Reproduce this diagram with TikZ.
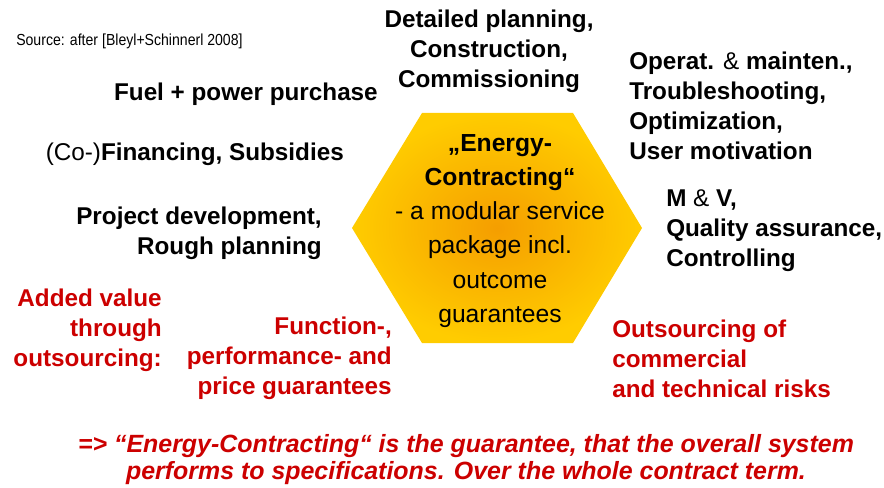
\documentclass[tikz,border=0pt]{standalone}
\usepackage{fontspec}
\setmainfont{Liberation Sans}
\newfontfamily\narrowfont[FakeStretch=0.88]{Liberation Sans}
\definecolor{hexcore}{RGB}{245,158,0}
\definecolor{hexrim}{RGB}{255,204,0}
\definecolor{gainred}{RGB}{204,0,0}

\begin{document}
\begin{tikzpicture}[x=0.75pt,y=-0.75pt,
    every node/.style={inner sep=0pt},
    task/.style={font=\fontsize{18.2}{22.5}\selectfont\bfseries},
    gain/.style={task,text=gainred}]
  \useasboundingbox (0,0) rectangle (884,488);
  \shade[inner color=hexcore,outer color=hexrim] (352,228) -- (422,113) -- (573,113)
    -- (642,228) -- (573,343) -- (422,343) -- cycle;
  \node (core) [font=\fontsize{18.5}{25.6}\selectfont, align=center] at (500,231)
    {\textbf{„Energy-}\\\textbf{Contracting“}\\- a modular service\\package incl.\\outcome\\guarantees};
  \node (source) [anchor=west, font=\narrowfont\fontsize{12}{14}\selectfont] at (16,41)
    {Source: after [Bleyl+Schinnerl 2008]};
  \node (build) [task, align=center] at (489,51) {Detailed planning,\\Construction,\\Commissioning};
  \node (fuel) [task, anchor=east] at (378,94) {Fuel + power purchase};
  \node (finance) [task, anchor=east] at (344,154) {{\mdseries (Co-)}Financing, Subsidies};
  \node (develop) [task, anchor=east, align=right] at (322,233) {Project development,\\Rough planning};
  \node (operate) [task, anchor=west, align=left] at (629,106)
    {Operat. {\mdseries\&} mainten.,\\Troubleshooting,\\Optimization,\\User motivation};
  \node (control) [task, anchor=west, align=left] at (666,231)
    {M {\mdseries\&} V,\\Quality assurance,\\Controlling};
  % added value
  \node (added) [gain, anchor=east, align=right] at (162,330) {Added value\\through\\outsourcing:};
  \node (guarantee) [gain, anchor=east, align=right] at (392,358)
    {Function-,\\performance- and\\price guarantees};
  \node (risk) [gain, anchor=west, align=left] at (612,359)
    {Outsourcing of\\commercial\\and technical risks};
  \node (verdict) [text=gainred, align=center,
    font=\fontsize{18.7}{20.3}\selectfont\bfseries\itshape] at (466,460)
    {=> “Energy-Contracting“ is the guarantee, that the overall system\\performs to specifications. Over the whole contract term.};
\end{tikzpicture}
\end{document}
